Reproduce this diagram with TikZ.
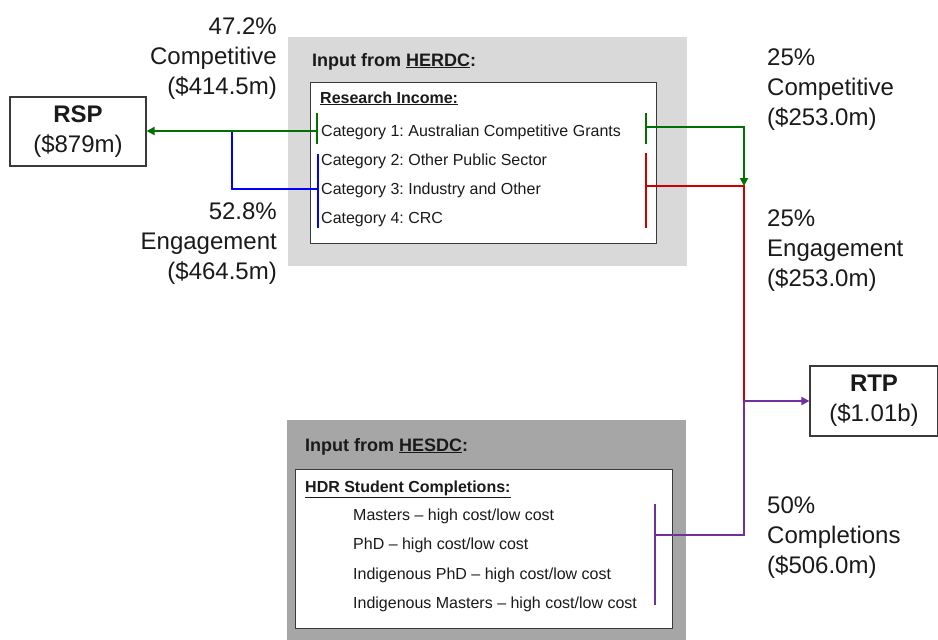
\documentclass[tikz,border=0pt]{standalone}
\usepackage{fontspec}
\setmainfont{Liberation Sans}
\usetikzlibrary{arrows.meta}
\definecolor{lgray}{HTML}{D9D9D9}
\definecolor{dgray}{HTML}{A6A6A6}
\definecolor{bordc}{HTML}{3A3A3A}
\definecolor{cgreen}{HTML}{007000}
\definecolor{cblue}{HTML}{0000FF}
\definecolor{cred}{HTML}{CC0000}
\definecolor{cpurple}{HTML}{7030A0}
\definecolor{txt}{HTML}{1A1A1A}
\frenchspacing
\begin{document}
\begin{tikzpicture}[x=1pt,y=-1pt,
  every node/.style={text=txt},
  big/.style={font=\fontsize{24}{30}\selectfont, inner sep=0pt},
  small/.style={font=\fontsize{16}{20}\selectfont, inner sep=0pt, anchor=base west},
  smallb/.style={font=\fontsize{16}{20}\selectfont\bfseries, inner sep=0pt, anchor=base west},
  head/.style={font=\fontsize{18}{22}\selectfont\bfseries, inner sep=0pt, anchor=base west},
  panel/.style={draw=none, anchor=north west, inner sep=0pt},
  listbox/.style={draw=bordc, line width=1.2pt, fill=white, anchor=north west, inner sep=0pt},
  fundbox/.style={draw=bordc, line width=1.2pt, fill=white, align=center, inner sep=0pt,
     font=\fontsize{24}{30}\selectfont},
  flow/.style={line width=2pt},
  tip/.style={-{Triangle[length=8pt,width=8pt]}}
]
\useasboundingbox (0,0) rectangle (938,640);
\fill[white] (0,0) rectangle (938,640);

% ---------- HERDC panel ----------
\node[panel, fill=lgray, minimum width=399pt, minimum height=229pt] (herdcbg) at (288,37) {};
\node[listbox, minimum width=346pt, minimum height=161pt] (herdcbox) at (310,82) {};
\node[head] (herdc) at (312,66) {Input from \underline{HERDC}:};
\node[smallb] (ri) at (320,103) {\underline{Research Income:}};
\node[small] (cat1) at (321,136) {Category 1: Australian Competitive Grants};
\node[small] (cat2) at (321,165) {Category 2: Other Public Sector};
\node[small] (cat3) at (321,194) {Category 3: Industry and Other};
\node[small] (cat4) at (321,223) {Category 4: CRC};

% ---------- HESDC panel ----------
\node[panel, fill=dgray, minimum width=399pt, minimum height=222pt] (hesdcbg) at (287,420) {};
\node[listbox, minimum width=377pt, minimum height=159pt] (hesdcbox) at (295,469) {};
\node[head] (hesdc) at (305,451) {Input from \underline{HESDC}:};
\node[smallb] (hdr) at (305,492) {\underline{HDR Student Completions:}};
\node[small] (it1) at (353,520) {Masters – high cost/low cost};
\node[small] (it2) at (353,549) {PhD – high cost/low cost};
\node[small] (it3) at (353,579) {Indigenous PhD – high cost/low cost};
\node[small] (it4) at (353,608) {Indigenous Masters – high cost/low cost};

% ---------- fund boxes ----------
\node[fundbox, minimum width=136pt, minimum height=69pt] (rsp) at (78,131.5) {\textbf{RSP}\\(\$879m)};
\node[fundbox, minimum width=128pt, minimum height=70pt] (rtp) at (874,401) {\textbf{RTP}\\(\$1.01b)};

% ---------- labels ----------
\node[big, align=right, anchor=east] (lcomp) at (277,59) {47.2\%\\Competitive\\(\$414.5m)};
\node[big, align=right, anchor=east] (leng) at (277,244) {52.8\%\\Engagement\\(\$464.5m)};
\node[big, align=left, anchor=west] (rcomp) at (767,90) {25\%\\Competitive\\(\$253.0m)};
\node[big, align=left, anchor=west] (reng) at (767,251) {25\%\\Engagement\\(\$253.0m)};
\node[big, align=left, anchor=west] (rcompl) at (767,538) {50\%\\Completions\\(\$506.0m)};

% ---------- coordinates ----------
\coordinate (glt) at (317,113); \coordinate (glb) at (317,144); \coordinate (glm) at (317,131);
\coordinate (blt) at (318,154); \coordinate (blb) at (318,228); \coordinate (blm) at (318,189);
\coordinate (bj) at (232,131);
\coordinate (grt) at (646,113); \coordinate (grb) at (646,144); \coordinate (grm) at (646,127);
\coordinate (rrt) at (646,153); \coordinate (rrb) at (646,228); \coordinate (rrm) at (646,186);
\coordinate (junc) at (744,186);
\coordinate (rtpj) at (744,401);
\coordinate (pt) at (655,504); \coordinate (pb) at (655,605); \coordinate (pm) at (655,535);
\coordinate (pc) at (744,535);

% ---------- connectors ----------
\draw[flow, cblue] (blt) -- (blb);
\draw[flow, cblue] (blm) -| (bj);
\draw[flow, cgreen] (glt) -- (glb);
\draw[flow, cgreen, tip] (glm) -- (glm -| rsp.east);

\draw[flow, cred] (rrt) -- (rrb);
\draw[flow, cred] (rrm) -- (junc) -- (rtpj);
\draw[flow, cgreen] (grt) -- (grb);
\draw[flow, cgreen, tip] (grm) -| (junc);

\draw[flow, cpurple] (pt) -- (pb);
\draw[flow, cpurple] (pm) -- (pc) -- (rtpj);
\draw[flow, cpurple, tip] (rtpj) -- (rtp.west);
\end{tikzpicture}
\end{document}
